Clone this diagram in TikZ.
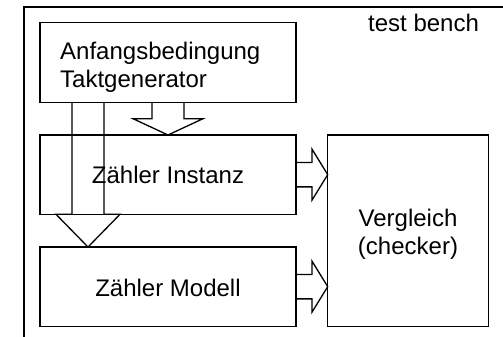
\documentclass[tikz,border=0pt]{standalone}
\usepackage{fontspec}
\setmainfont{Liberation Sans}
\usetikzlibrary{calc}
\begin{document}
\begin{tikzpicture}[x=1pt,y=-1pt,
  blk/.style={draw,line width=1.3pt,inner sep=0pt,outer sep=0pt,anchor=north west},
  lbl/.style={font=\fontsize{24}{27.6}\selectfont,inner sep=0pt},
  arr/.style={line width=1.3pt,line join=miter}]
\useasboundingbox (0,0) rectangle (503,337);
\begin{scope}
\clip (0,0) rectangle (503,337);
\draw[line width=1.7pt] (24,7) rectangle (540,360);
\end{scope}
\node[lbl,anchor=base west] (tb) at (368,31.7) {test bench};
\node[blk,minimum width=256pt,minimum height=79.6pt] (ab) at (40,22.7) {};
\node[blk,minimum width=256pt,minimum height=79.3pt] (inst) at (40,135) {};
\node[blk,minimum width=256pt,minimum height=79.3pt] (mod) at (40,247) {};
\node[blk,minimum width=160.6pt,minimum height=191.3pt] (verg) at (327.7,135) {};
\node[lbl,align=left,anchor=west] (abt) at (60,67.5) {Anfangsbedingung\\Taktgenerator};
\node[lbl] (instt) at (168,175.2) {Zähler Instanz};
\node[lbl] (modt) at (168,287.5) {Zähler Modell};
\node[lbl,align=center] (vergt) at (408,234.5) {Vergleich\\(checker)};
% arrow ab -> inst
\draw[arr] ($(ab.south)+(-16,0)$) -- ($(inst.north)+(-16,-16.3)$) -- ($(inst.north)+(-35,-16.3)$) -- (inst.north) -- ($(inst.north)+(35,-16.3)$) -- ($(inst.north)+(16,-16.3)$) -- ($(ab.south)+(16,0)$);
% arrow ab -> mod
\coordinate (tip2) at ($(mod.north)+(-80,0)$);
\draw[arr] ($(ab.south)+(-96,0)$) -- ($(inst.south)+(-96,0)$) -- ($(inst.south)+(-112,0)$) -- (tip2) -- ($(inst.south)+(-48,0)$) -- ($(inst.south)+(-64,0)$) -- ($(ab.south)+(-64,0)$);
% arrow inst -> verg
\coordinate (tip3) at (inst.east -| verg.west);
\draw[arr] ($(inst.east)+(0,-12.2)$) -- ($(inst.east)+(16,-12.2)$) -- ($(inst.east)+(16,-25.5)$) -- (tip3) -- ($(inst.east)+(16,25.5)$) -- ($(inst.east)+(16,12.2)$) -- ($(inst.east)+(0,12.2)$);
% arrow mod -> verg
\coordinate (tip4) at (mod.east -| verg.west);
\draw[arr] ($(mod.east)+(0,-12.2)$) -- ($(mod.east)+(16,-12.2)$) -- ($(mod.east)+(16,-25.5)$) -- (tip4) -- ($(mod.east)+(16,25.5)$) -- ($(mod.east)+(16,12.2)$) -- ($(mod.east)+(0,12.2)$);
\end{tikzpicture}
\end{document}
